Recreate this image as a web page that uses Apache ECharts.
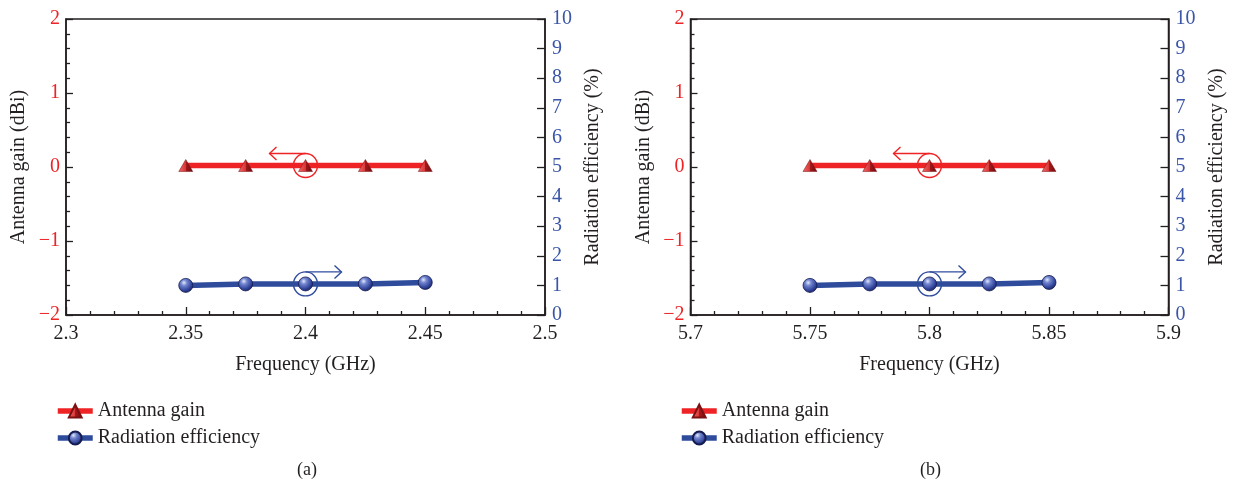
<!DOCTYPE html>
<html>
<head>
<meta charset="utf-8">
<script src="https://cdn.jsdelivr.net/npm/echarts@6/dist/echarts.min.js"></script>
<style>
  html, body { margin: 0; padding: 0; background: #fff; }
  #chart { width: 1233px; height: 493px; }
</style>
</head>
<body>
<div id="chart"></div>
<script>
// Measured antenna performance across the two operating bands
var freqLow = [2.35, 2.375, 2.4, 2.425, 2.45];      // GHz, band (a)
var freqHigh = [5.75, 5.775, 5.8, 5.825, 5.85];     // GHz, band (b)
var gainLow = [0.02, 0.02, 0.02, 0.02, 0.02];       // dBi
var gainHigh = [0.02, 0.02, 0.02, 0.02, 0.02];      // dBi
var effLow = [1.0, 1.05, 1.05, 1.05, 1.1];          // %
var effHigh = [1.0, 1.05, 1.05, 1.05, 1.1];         // %

// Axis ranges
var xRangeLow = [2.3, 2.5];
var xRangeHigh = [5.7, 5.9];
var gainRange = [-2, 2];
var effRange = [0, 10];

// Circled reference points (x, y, arrow direction) pointing to their axis
var gainMarkLow = [[2.4, 0.02, -1]];
var effMarkLow = [[2.4, 1.05, 1]];
var gainMarkHigh = [[5.8, 0.02, -1]];
var effMarkHigh = [[5.8, 1.05, 1]];

var FONT = '"Liberation Serif", "Times New Roman", serif';
var RED = '#ee2326';
var BLUE = '#2f4c9c';
var INK = '#231f20';

function pairs(xs, ys) {
  return xs.map(function (x, i) { return [x, ys[i]]; });
}

var triangleFill = {
  type: 'linear', x: 0, y: 0, x2: 1, y2: 0,
  colorStops: [
    { offset: 0, color: '#f06a6a' },
    { offset: 0.5, color: '#d83535' },
    { offset: 0.5, color: '#a5191c' },
    { offset: 1, color: '#6e0c0e' }
  ]
};
var sphereFill = {
  type: 'radial', x: 0.38, y: 0.32, r: 0.72,
  colorStops: [
    { offset: 0, color: '#e4e8fa' },
    { offset: 0.28, color: '#7386cf' },
    { offset: 0.7, color: '#34479e' },
    { offset: 1, color: '#18235e' }
  ]
};

function xAxisCfg(gridIndex, range) {
  return {
    type: 'value', gridIndex: gridIndex,
    min: range[0], max: range[1], interval: 0.05,
    name: 'Frequency (GHz)', nameLocation: 'middle', nameGap: 40,
    nameTextStyle: { fontFamily: FONT, fontSize: 20, color: INK },
    axisLine: { onZero: false, lineStyle: { color: INK, width: 1.5 } },
    axisTick: { inside: true, length: 8, lineStyle: { color: INK, width: 1.3 } },
    minorTick: { show: true, splitNumber: 5, length: 4, lineStyle: { color: INK, width: 1.3 } },
    axisLabel: { fontFamily: FONT, fontSize: 20, color: INK, margin: 9 },
    splitLine: { show: false }
  };
}

function gainAxisCfg(gridIndex) {
  return {
    type: 'value', gridIndex: gridIndex, position: 'left',
    min: gainRange[0], max: gainRange[1], interval: 1,
    name: 'Antenna gain (dBi)', nameLocation: 'middle', nameGap: 37,
    nameTextStyle: { fontFamily: FONT, fontSize: 20, color: INK },
    axisLine: { show: true, onZero: false, lineStyle: { color: INK, width: 1.5 } },
    axisTick: { show: true, inside: true, length: 7, lineStyle: { color: INK, width: 1.3 } },
    minorTick: { show: true, splitNumber: 5, length: 4, lineStyle: { color: INK, width: 1.3 } },
    axisLabel: {
      fontFamily: FONT, fontSize: 20, color: RED, margin: 6,
      formatter: function (v) { return v < 0 ? '\u2212' + Math.abs(v) : String(v); }
    },
    splitLine: { show: false }
  };
}

function effAxisCfg(gridIndex) {
  return {
    type: 'value', gridIndex: gridIndex, position: 'right',
    min: effRange[0], max: effRange[1], interval: 1,
    name: 'Radiation efficiency (%)', nameLocation: 'middle', nameGap: 38,
    nameRotate: 90,
    nameTextStyle: { fontFamily: FONT, fontSize: 20, color: INK },
    axisLine: { show: true, onZero: false, lineStyle: { color: INK, width: 1.5 } },
    axisTick: { show: true, inside: true, length: 8, lineStyle: { color: INK, width: 1.3 } },
    axisLabel: { fontFamily: FONT, fontSize: 20, color: '#3a55a8', margin: 7 },
    splitLine: { show: false }
  };
}

function gainSeries(xi, yi, xs, ys) {
  return {
    name: 'Antenna gain', type: 'line', xAxisIndex: xi, yAxisIndex: yi,
    data: pairs(xs, ys), symbol: 'triangle', symbolSize: [14, 12],
    lineStyle: { color: RED, width: 5.5 },
    itemStyle: { color: triangleFill, borderColor: '#7a1012', borderWidth: 0.5 },
    z: 3, animation: false
  };
}

function effSeries(xi, yi, xs, ys) {
  return {
    name: 'Radiation efficiency', type: 'line', xAxisIndex: xi, yAxisIndex: yi,
    data: pairs(xs, ys), symbol: 'circle', symbolSize: 14,
    lineStyle: { color: BLUE, width: 5.5 },
    itemStyle: { color: sphereFill, borderColor: '#141c50', borderWidth: 0.8 },
    z: 3, animation: false
  };
}

// Circle around a point with an arrow pointing toward the axis it belongs to
function markSeries(xi, yi, data, color) {
  return {
    type: 'custom', xAxisIndex: xi, yAxisIndex: yi, data: data, z: 5,
    silent: true, animation: false,
    renderItem: function (params, api) {
      var p = api.coord([api.value(0), api.value(1)]);
      var dir = api.value(2);
      var r = 12, len = 36;
      var top = p[1] - r;
      var tip = p[0] + dir * len;
      var style = { stroke: color, fill: null, lineWidth: 1.4 };
      return {
        type: 'group',
        children: [
          { type: 'circle', shape: { cx: p[0], cy: p[1], r: r }, style: style },
          { type: 'polyline', shape: { points: [[p[0], top], [tip, top]] }, style: style },
          { type: 'polyline', shape: { points: [[tip - dir * 7, top - 6.5], [tip, top], [tip - dir * 7, top + 6.5]] }, style: style }
        ]
      };
    }
  };
}

function legendCfg(left) {
  return {
    orient: 'vertical', left: left, top: 401, itemGap: 7, padding: 0,
    itemWidth: 35, itemHeight: 16, itemTextGap: 6,
    data: ['Antenna gain', 'Radiation efficiency'],
    lineStyle: { width: 5.5 },
    textStyle: { fontFamily: FONT, fontSize: 20, color: INK },
    selectedMode: false
  };
}

var chart = echarts.init(document.getElementById('chart'), null, { renderer: 'canvas' });

chart.setOption({
  backgroundColor: '#ffffff',
  animation: false,
  grid: [
    { left: 66, top: 19, width: 479, height: 296, show: true, borderColor: INK, borderWidth: 1.5, backgroundColor: 'transparent' },
    { left: 690.5, top: 19, width: 478, height: 296, show: true, borderColor: INK, borderWidth: 1.5, backgroundColor: 'transparent' }
  ],
  xAxis: [xAxisCfg(0, xRangeLow), xAxisCfg(1, xRangeHigh)],
  yAxis: [gainAxisCfg(0), effAxisCfg(0), gainAxisCfg(1), effAxisCfg(1)],
  legend: [legendCfg(55), legendCfg(679)],
  series: [
    gainSeries(0, 0, freqLow, gainLow),
    effSeries(0, 1, freqLow, effLow),
    gainSeries(1, 2, freqHigh, gainHigh),
    effSeries(1, 3, freqHigh, effHigh),
    markSeries(0, 0, gainMarkLow, RED),
    markSeries(0, 1, effMarkLow, BLUE),
    markSeries(1, 2, gainMarkHigh, RED),
    markSeries(1, 3, effMarkHigh, BLUE)
  ],
  graphic: [
    { type: 'text', left: 297, top: 461, style: { text: '(a)', font: '18px ' + FONT, fill: INK } },
    { type: 'text', left: 920, top: 461, style: { text: '(b)', font: '18px ' + FONT, fill: INK } }
  ]
});
</script>
</body>
</html>
